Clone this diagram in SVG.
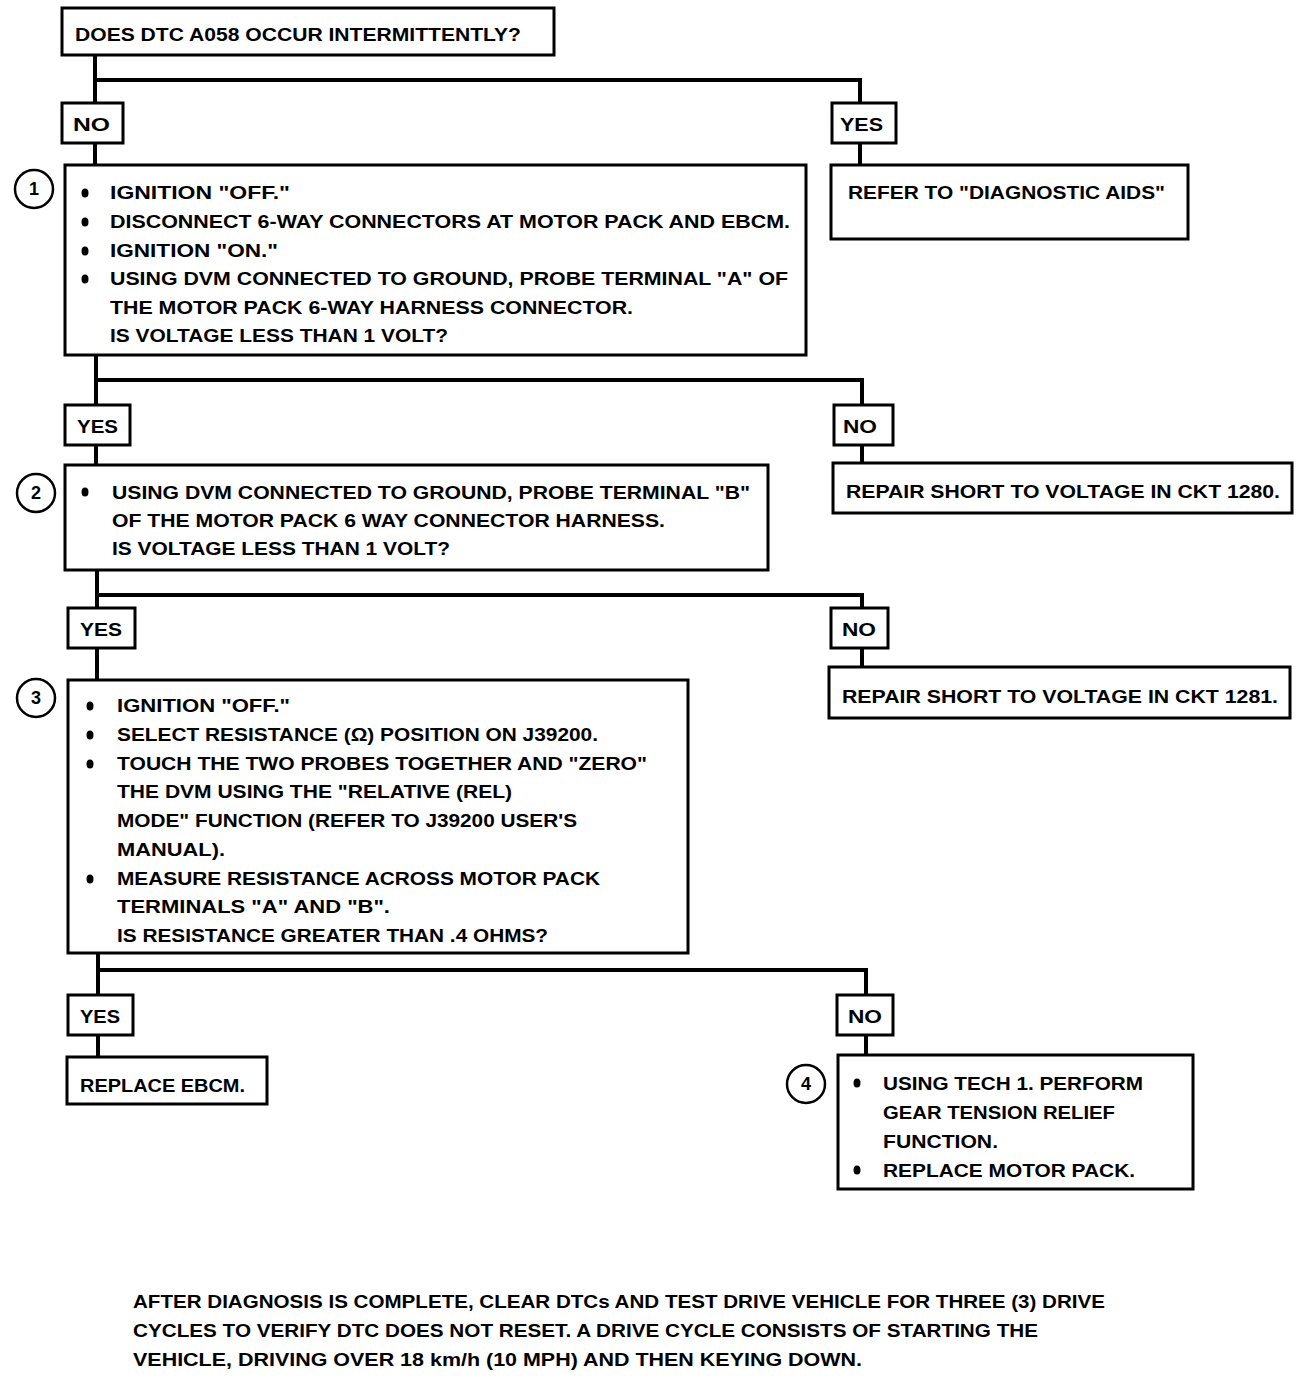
<svg xmlns="http://www.w3.org/2000/svg" width="1312" height="1376" viewBox="0 0 1312 1376">
<style>
.box{fill:#fff;stroke:#000;stroke-width:3}
.t{font-family:"Liberation Sans",Arial,sans-serif;font-weight:bold;font-size:19px;fill:#000}
.c{fill:#fff;stroke:#000;stroke-width:2.5}
.n{font-family:"Liberation Sans",Arial,sans-serif;font-weight:bold;font-size:18px;text-anchor:middle;fill:#000}
.ln{stroke:#000;stroke-width:4;fill:none}
.b{fill:#000}
</style>
<rect width="1312" height="1376" fill="#fff"/>
<g id="connectors">
<path class="ln" d="M95 55V103M95 143V165M95 80H860V103M860 143V165"/>
<path class="ln" d="M96 355V405M96 445V465M96 380H862V405M862 445V463"/>
<path class="ln" d="M97 570V608M97 648V680M97 595H862V608M862 648V667"/>
<path class="ln" d="M98 953V995M98 1035V1057M98 970H866V995M866 1035V1055"/>
</g>
<g id="q0">
<rect class="box" x="62" y="8" width="492" height="47"/>
<text class="t" x="75" y="41" textLength="446" lengthAdjust="spacingAndGlyphs">DOES DTC A058 OCCUR INTERMITTENTLY?</text>
</g>
<g id="l-no1"><rect class="box" x="62" y="103" width="61" height="40"/><text class="t" x="73" y="131" textLength="37" lengthAdjust="spacingAndGlyphs">NO</text></g>
<g id="l-yes1"><rect class="box" x="832" y="103" width="64" height="40"/><text class="t" x="840" y="131" textLength="43" lengthAdjust="spacingAndGlyphs">YES</text></g>
<g id="step1">
<circle class="c" cx="34" cy="189" r="19"/><text class="n" x="34" y="195">1</text>
<rect class="box" x="65" y="165" width="741" height="190"/>
<ellipse class="b" cx="85" cy="193" rx="3.5" ry="4.5"/><ellipse class="b" cx="85" cy="222" rx="3.5" ry="4.5"/><ellipse class="b" cx="85" cy="251" rx="3.5" ry="4.5"/><ellipse class="b" cx="85" cy="279" rx="3.5" ry="4.5"/>
<text class="t" x="110" y="199" textLength="180" lengthAdjust="spacingAndGlyphs">IGNITION "OFF."</text>
<text class="t" x="110" y="228" textLength="680" lengthAdjust="spacingAndGlyphs">DISCONNECT 6-WAY CONNECTORS AT MOTOR PACK AND EBCM.</text>
<text class="t" x="110" y="257" textLength="168" lengthAdjust="spacingAndGlyphs">IGNITION "ON."</text>
<text class="t" x="110" y="285" textLength="678" lengthAdjust="spacingAndGlyphs">USING DVM CONNECTED TO GROUND, PROBE TERMINAL "A" OF</text>
<text class="t" x="110" y="314" textLength="523" lengthAdjust="spacingAndGlyphs">THE MOTOR PACK 6-WAY HARNESS CONNECTOR.</text>
<text class="t" x="110" y="342" textLength="338" lengthAdjust="spacingAndGlyphs">IS VOLTAGE LESS THAN 1 VOLT?</text>
</g>
<g id="diag-aids">
<rect class="box" x="831" y="165" width="357" height="74"/>
<text class="t" x="848" y="199" textLength="317" lengthAdjust="spacingAndGlyphs">REFER TO "DIAGNOSTIC AIDS"</text>
</g>
<g id="l-yes2"><rect class="box" x="65" y="405" width="65" height="40"/><text class="t" x="77" y="433" textLength="41" lengthAdjust="spacingAndGlyphs">YES</text></g>
<g id="l-no2"><rect class="box" x="834" y="405" width="59" height="40"/><text class="t" x="843" y="433" textLength="34" lengthAdjust="spacingAndGlyphs">NO</text></g>
<g id="step2">
<circle class="c" cx="36" cy="493" r="19"/><text class="n" x="36" y="499">2</text>
<rect class="box" x="65" y="465" width="703" height="105"/>
<ellipse class="b" cx="85" cy="492" rx="3.5" ry="4.5"/>
<text class="t" x="112" y="499" textLength="638" lengthAdjust="spacingAndGlyphs">USING DVM CONNECTED TO GROUND, PROBE TERMINAL "B"</text>
<text class="t" x="112" y="527" textLength="553" lengthAdjust="spacingAndGlyphs">OF THE MOTOR PACK 6 WAY CONNECTOR HARNESS.</text>
<text class="t" x="112" y="555" textLength="338" lengthAdjust="spacingAndGlyphs">IS VOLTAGE LESS THAN 1 VOLT?</text>
</g>
<g id="ckt1280">
<rect class="box" x="833" y="463" width="459" height="50"/>
<text class="t" x="846" y="498" textLength="434" lengthAdjust="spacingAndGlyphs">REPAIR SHORT TO VOLTAGE IN CKT 1280.</text>
</g>
<g id="l-yes3"><rect class="box" x="68" y="608" width="67" height="40"/><text class="t" x="80" y="636" textLength="42" lengthAdjust="spacingAndGlyphs">YES</text></g>
<g id="l-no3"><rect class="box" x="831" y="608" width="57" height="40"/><text class="t" x="842" y="636" textLength="34" lengthAdjust="spacingAndGlyphs">NO</text></g>
<g id="step3">
<circle class="c" cx="36" cy="698" r="19"/><text class="n" x="36" y="704">3</text>
<rect class="box" x="68" y="680" width="620" height="273"/>
<ellipse class="b" cx="90" cy="706" rx="3.5" ry="4.5"/><ellipse class="b" cx="90" cy="735" rx="3.5" ry="4.5"/><ellipse class="b" cx="90" cy="764" rx="3.5" ry="4.5"/><ellipse class="b" cx="90" cy="879" rx="3.5" ry="4.5"/>
<text class="t" x="117" y="712" textLength="173" lengthAdjust="spacingAndGlyphs">IGNITION "OFF."</text>
<text class="t" x="117" y="741" textLength="481" lengthAdjust="spacingAndGlyphs">SELECT RESISTANCE (Ω) POSITION ON J39200.</text>
<text class="t" x="117" y="770" textLength="530" lengthAdjust="spacingAndGlyphs">TOUCH THE TWO PROBES TOGETHER AND "ZERO"</text>
<text class="t" x="117" y="798" textLength="395" lengthAdjust="spacingAndGlyphs">THE DVM USING THE "RELATIVE (REL)</text>
<text class="t" x="117" y="827" textLength="460" lengthAdjust="spacingAndGlyphs">MODE" FUNCTION (REFER TO J39200 USER'S</text>
<text class="t" x="117" y="856" textLength="108" lengthAdjust="spacingAndGlyphs">MANUAL).</text>
<text class="t" x="117" y="885" textLength="483" lengthAdjust="spacingAndGlyphs">MEASURE RESISTANCE ACROSS MOTOR PACK</text>
<text class="t" x="117" y="913" textLength="273" lengthAdjust="spacingAndGlyphs">TERMINALS "A" AND "B".</text>
<text class="t" x="117" y="942" textLength="431" lengthAdjust="spacingAndGlyphs">IS RESISTANCE GREATER THAN .4 OHMS?</text>
</g>
<g id="ckt1281">
<rect class="box" x="829" y="667" width="461" height="51"/>
<text class="t" x="842" y="703" textLength="436" lengthAdjust="spacingAndGlyphs">REPAIR SHORT TO VOLTAGE IN CKT 1281.</text>
</g>
<g id="l-yes4"><rect class="box" x="68" y="995" width="65" height="40"/><text class="t" x="80" y="1023" textLength="40" lengthAdjust="spacingAndGlyphs">YES</text></g>
<g id="l-no4"><rect class="box" x="837" y="995" width="56" height="40"/><text class="t" x="848" y="1023" textLength="34" lengthAdjust="spacingAndGlyphs">NO</text></g>
<g id="ebcm">
<rect class="box" x="67" y="1057" width="200" height="47"/>
<text class="t" x="80" y="1092" textLength="165" lengthAdjust="spacingAndGlyphs">REPLACE EBCM.</text>
</g>
<g id="step4">
<circle class="c" cx="806" cy="1084" r="19"/><text class="n" x="806" y="1090">4</text>
<rect class="box" x="838" y="1055" width="355" height="134"/>
<ellipse class="b" cx="857" cy="1083" rx="3.5" ry="4.5"/><ellipse class="b" cx="857" cy="1170" rx="3.5" ry="4.5"/>
<text class="t" x="883" y="1090" textLength="260" lengthAdjust="spacingAndGlyphs">USING TECH 1. PERFORM</text>
<text class="t" x="883" y="1119" textLength="232" lengthAdjust="spacingAndGlyphs">GEAR TENSION RELIEF</text>
<text class="t" x="883" y="1148" textLength="115" lengthAdjust="spacingAndGlyphs">FUNCTION.</text>
<text class="t" x="883" y="1177" textLength="252" lengthAdjust="spacingAndGlyphs">REPLACE MOTOR PACK.</text>
</g>
<g id="footer">
<text class="t" x="133" y="1308" textLength="972" lengthAdjust="spacingAndGlyphs">AFTER DIAGNOSIS IS COMPLETE, CLEAR DTCs AND TEST DRIVE VEHICLE FOR THREE (3) DRIVE</text>
<text class="t" x="133" y="1337" textLength="905" lengthAdjust="spacingAndGlyphs">CYCLES TO VERIFY DTC DOES NOT RESET.  A DRIVE CYCLE CONSISTS OF STARTING THE</text>
<text class="t" x="133" y="1366" textLength="729" lengthAdjust="spacingAndGlyphs">VEHICLE, DRIVING OVER  18 km/h (10 MPH) AND THEN KEYING DOWN.</text>
</g>
</svg>
